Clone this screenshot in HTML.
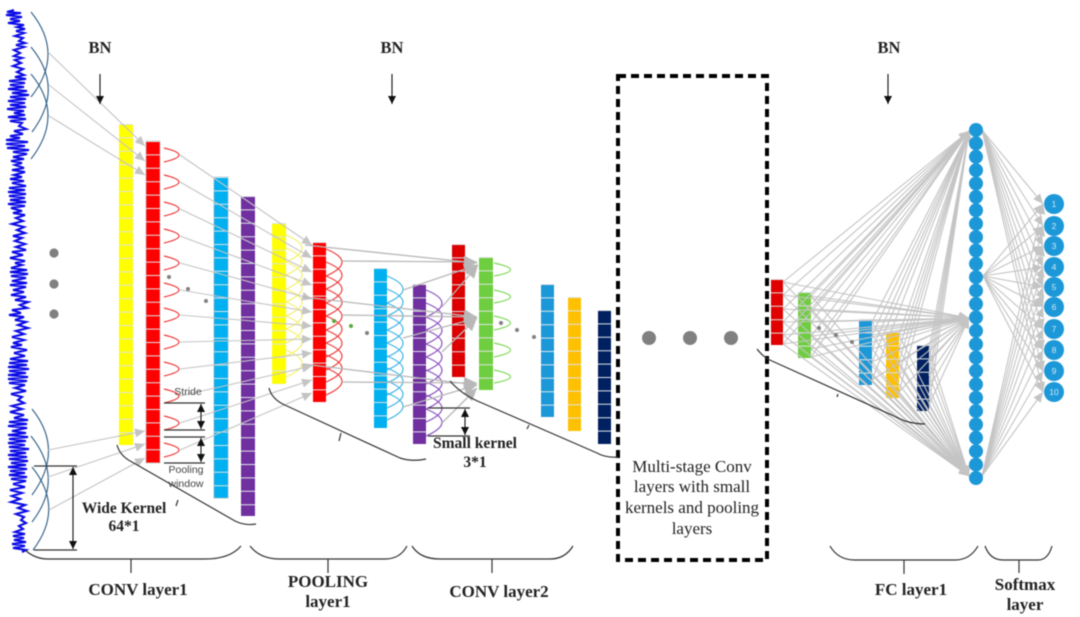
<!DOCTYPE html>
<html><head><meta charset="utf-8"><style>
html,body{margin:0;padding:0;background:#fff;width:1080px;height:617px;overflow:hidden}
svg{display:block;filter:blur(.5px)}
text{font-family:"Liberation Serif",serif;font-weight:bold;font-size:15.500px;fill:#222;text-anchor:middle}
.L{font-size:17px}
.B{font-size:16.500px}
.s{font-family:"Liberation Sans",sans-serif;font-weight:normal;font-size:10.500px;fill:#444}
.r{font-weight:normal;font-size:17px}
.n{font-family:"Liberation Sans",sans-serif;font-weight:normal;font-size:8.500px;fill:#cfeaf8}
.sep{stroke:#dde3e6;stroke-dasharray:1 12.4}
.arc{fill:none;stroke-width:1.2}
.gl{fill:none;stroke:#c4c4c4;stroke-width:1.1;marker-end:url(#a)}
.gb{fill:none;stroke:#b8b8b8;stroke-width:1.3;marker-end:url(#c)}
.k{stroke:#333;stroke-width:1.2;fill:none}
.d{fill:#808080}
</style></head><body>
<svg width="1080" height="617" viewBox="0 0 1080 617" xmlns="http://www.w3.org/2000/svg">
<defs>
<marker id="a" markerUnits="userSpaceOnUse" markerWidth="11" markerHeight="9" refX="10" refY="4.5" orient="auto"><path d="M0 0L10 4.5L0 9z" fill="#c4c4c4"/></marker>
<marker id="c" markerUnits="userSpaceOnUse" markerWidth="14" markerHeight="12" refX="13" refY="6" orient="auto"><path d="M0 0L13 6L0 12z" fill="#b8b8b8"/></marker>
<marker id="b" markerUnits="userSpaceOnUse" markerWidth="9" markerHeight="9" refX="8" refY="4" orient="auto-start-reverse"><path d="M0 0L8 4L0 8z" fill="#111"/></marker>
</defs>
<rect width="1080" height="617" fill="#fff"/>

<!-- signal -->
<polyline fill="none" stroke="#0a0ae6" stroke-width="2.100" points="14,10 7,12 21,13 6,15 22,17 10,19 20,21 8,23 24,25 17,27 25,29 16,31 24,33 15,36 23,38 19,41 25,43 16,45 24,47 14,50 20,53 14,56 22,58 15,60 21,63 13,66 23,69 17,72 24,75 15,77 26,79 9,81 25,83 10,85 24,87 8,89 27,91 12,93 29,95 10,97 26,99 8,101 25,103 10,105 26,107 7,109 24,111 14,113 25,115 8,117 26,119 10,121 22,123 19,126 26,129 14,131 23,134 10,136 20,138 6,140 28,142 6,144 25,146 7,148 29,150 13,152 27,154 13,157 24,159 11,161 22,163 15,165 24,168 12,170 25,172 14,175 22,177 10,179 24,181 12,183 26,186 9,188 25,190 8,192 26,194 9,196 25,198 10,200 26,202 8,204 25,206 11,208 22,211 13,213 25,215 16,218 23,221 12,224 24,227 17,230 25,233 13,236 22,238 15,241 25,244 16,247 26,250 12,252 23,255 10,258 25,261 15,263 22,265 11,268 27,270 10,272 28,274 11,276 26,278 12,281 27,283 10,285 26,287 13,290 24,292 11,295 26,297 15,300 28,302 20,305 27,308 12,310 21,313 9,315 24,317 15,320 26,322 18,325 28,328 16,331 24,334 12,337 24,340 13,343 22,345 11,347 27,350 14,353 25,356 10,359 28,361 9,363 27,365 8,367 29,369 9,371 26,373 8,375 28,377 8,379 27,381 9,383 25,385 15,388 26,391 11,394 22,397 18,400 24,403 12,406 22,409 10,412 24,415 14,418 28,420 9,422 27,424 8,426 27,428 12,431 26,433 8,435 28,437 9,439 26,441 8,443 25,445 9,447 29,449 10,451 26,453 8,455 27,457 9,459 28,461 11,463 26,465 8,467 27,469 10,471 25,473 9,475 27,477 11,479 26,481 13,484 25,487 10,490 22,493 12,496 20,499 11,502 25,505 18,508 27,511 16,514 24,517 21,520 26,523 19,526 23,529 15,532 25,534 13,536 24,538 14,540 26,542 12,544 25,546 13,548 26,550 22,552"/>

<!-- input arcs -->
<g fill="none" stroke="#2f5f88" stroke-width="1.1">
<path d="M31 12Q65 54 31 97"/><path d="M31 47Q65 88 32 132"/><path d="M31 74Q65 115 31 159"/>
<path d="M32 409Q65 450 32 495"/><path d="M31 436Q65 479 32 522"/><path d="M32 467Q65 508 33 550"/>
</g>

<!-- bars: first group -->
<rect x="119" y="124" width="14" height="321" fill="#ffff00"/><line class="sep" x1="126" x2="126" y1="124" y2="445" stroke-width="14"/>
<rect x="146" y="141" width="14" height="322" fill="#ff0000" stroke="#b9b9b9" stroke-width=".7"/><line class="sep" x1="153" x2="153" y1="141" y2="463" stroke-width="14"/>
<rect x="214" y="177" width="14" height="321" fill="#00b0f0" stroke="#8cb4c4" stroke-width=".7"/><line class="sep" x1="221" x2="221" y1="177" y2="498" stroke-width="14"/>
<rect x="241" y="196" width="14" height="320" fill="#7030a0"/><line class="sep" x1="248" x2="248" y1="196" y2="516" stroke-width="14"/>
<rect x="272" y="223" width="14" height="161" fill="#ffff00"/><line class="sep" x1="279" x2="279" y1="223" y2="384" stroke-width="14"/>
<rect x="313" y="242" width="13" height="160" fill="#ff0000"/><line class="sep" x1="319.500" x2="319.500" y1="242" y2="402" stroke-width="13"/>
<rect x="374" y="268" width="13" height="160" fill="#00b0f0"/><line class="sep" x1="380.500" x2="380.500" y1="268" y2="428" stroke-width="13"/>
<rect x="413" y="284" width="13" height="160" fill="#7030a0"/><line class="sep" x1="419.500" x2="419.500" y1="284" y2="444" stroke-width="13"/>
<rect x="452" y="244" width="13" height="133" fill="#dc0000"/><line class="sep" x1="458.500" x2="458.500" y1="244" y2="377" stroke-width="13"/>
<rect x="479" y="257" width="14" height="133" fill="#6fce3f"/><line class="sep" x1="486" x2="486" y1="257" y2="390" stroke-width="14"/>
<rect x="541" y="284" width="13" height="133" fill="#1c98d8"/><line class="sep" x1="547.500" x2="547.500" y1="284" y2="417" stroke-width="13"/>
<rect x="568" y="297" width="13" height="134" fill="#ffc000"/><line class="sep" x1="574.500" x2="574.500" y1="297" y2="431" stroke-width="13"/>
<rect x="598" y="310" width="13" height="134" fill="#002060"/><line class="sep" x1="604.500" x2="604.500" y1="310" y2="444" stroke-width="13"/>

<!-- bars: FC -->
<rect x="771" y="279" width="12" height="66" fill="#e00000"/><line class="sep" x1="777" x2="777" y1="279" y2="345" stroke-width="12"/>
<rect x="798" y="292" width="13" height="66" fill="#6fce3f"/><line class="sep" x1="804.500" x2="804.500" y1="292" y2="358" stroke-width="13"/>
<rect x="859" y="319" width="13" height="66" fill="#1c98d8"/><line class="sep" x1="865.500" x2="865.500" y1="319" y2="385" stroke-width="13"/>
<rect x="886" y="332" width="13" height="66" fill="#ffc000"/><line class="sep" x1="892.500" x2="892.500" y1="332" y2="398" stroke-width="13"/>
<rect x="917" y="345" width="12" height="66" fill="#002060"/><line class="sep" x1="923" x2="923" y1="345" y2="411" stroke-width="12"/>

<!-- arcs: red wide -->
<g class="arc" stroke="#ee3b3b" fill="none">
<path d="M164 148Q194 155 164 162"/><path d="M164 175Q194 182 164 189"/><path d="M164 202Q194 209 164 216"/><path d="M164 229Q194 236 164 243"/><path d="M164 256Q194 263 164 270"/><path d="M164 283Q194 290 164 297"/><path d="M164 308Q194 315 164 322"/><path d="M164 335Q194 342 164 349"/><path d="M164 362Q194 369 164 376"/><path d="M164 389Q194 396 164 403"/><path d="M164 416Q194 423 164 430"/><path d="M164 443Q194 450 164 457"/>
</g>
<!-- overlapping arcs -->
<g class="arc" stroke="#f5f06a" fill="none">
<path d="M286 235Q318 248 286 262"/><path d="M286 248Q318 261 286 275"/><path d="M286 262Q318 275 286 289"/><path d="M286 275Q318 288 286 302"/><path d="M286 289Q318 302 286 316"/><path d="M286 302Q318 315 286 329"/><path d="M286 316Q318 329 286 343"/><path d="M286 329Q318 342 286 356"/><path d="M286 350Q318 363 286 377"/>
</g>
<g class="arc" stroke="#ee3b3b" fill="none">
<path d="M326 249Q358 262 326 276"/><path d="M326 262Q358 275 326 289"/><path d="M326 276Q358 289 326 303"/><path d="M326 289Q358 302 326 316"/><path d="M326 303Q358 316 326 330"/><path d="M326 316Q358 329 326 343"/><path d="M326 330Q358 343 326 357"/><path d="M326 343Q358 356 326 370"/><path d="M326 355Q358 368 326 382"/><path d="M326 368Q358 381 326 395"/>
</g>
<g class="arc" stroke="#3cb4e6" fill="none">
<path d="M387 276Q419 289 387 303"/><path d="M387 289Q419 302 387 316"/><path d="M387 303Q419 316 387 330"/><path d="M387 316Q419 329 387 343"/><path d="M387 330Q419 343 387 357"/><path d="M387 343Q419 356 387 370"/><path d="M387 356Q419 369 387 383"/><path d="M387 368Q419 381 387 395"/><path d="M387 381Q419 394 387 408"/><path d="M387 393Q419 406 387 420"/>
</g>
<g class="arc" stroke="#8a4fc0" fill="none">
<path d="M426 290Q458 303 426 317"/><path d="M426 303Q458 316 426 330"/><path d="M426 317Q458 330 426 344"/><path d="M426 330Q458 343 426 357"/><path d="M426 344Q458 357 426 371"/><path d="M426 357Q458 370 426 384"/><path d="M426 370Q458 383 426 397"/><path d="M426 382Q458 395 426 409"/><path d="M426 395Q458 408 426 422"/><path d="M426 409Q458 422 426 436"/>
</g>
<g class="arc" stroke="#7ed957" fill="none">
<path d="M494 263Q527 270 494 276"/><path d="M494 290Q527 297 494 303"/><path d="M494 316Q527 323 494 330"/><path d="M494 343Q527 350 494 357"/><path d="M494 370Q527 377 494 383"/>
</g>

<!-- connectors first group -->
<g class="gl">
<path d="M48 52L145 146"/><path d="M49 85L145 161"/><path d="M49 116L145 175"/>
<path d="M48 450L145 431"/><path d="M48 477L145 444"/><path d="M49 510L145 458"/>
<path d="M180 155L312 245"/><path d="M180 182L312 258"/><path d="M180 209L312 272"/><path d="M180 236L312 285"/><path d="M180 263L312 299"/><path d="M180 290L312 312"/><path d="M180 315L312 326"/><path d="M180 342L312 339"/><path d="M180 369L312 353"/><path d="M180 396L312 366"/><path d="M180 423L312 380"/><path d="M180 450L312 393"/>
</g>
<g class="gb">
<path d="M305 245L477 263"/><path d="M342 261L477 262"/><path d="M403 290L477 265"/><path d="M442 307L478 265"/>
<path d="M303 297L477 317"/><path d="M342 315L477 317"/><path d="M403 338L477 318"/><path d="M442 352L477 318"/>
<path d="M303 364L477 385"/><path d="M342 382L477 383"/><path d="M403 407L477 385"/><path d="M442 423L477 388"/>
</g>

<!-- FC connectors -->
<g class="gl">
<path d="M783 282L969 131"/><path d="M783 295L969 131"/><path d="M783 309L969 131"/><path d="M783 322L969 131"/><path d="M783 335L969 131"/><path d="M783 344L969 131"/>
<path d="M811 296L969 131"/><path d="M811 309L969 131"/><path d="M811 322L969 131"/><path d="M811 336L969 131"/><path d="M811 349L969 131"/><path d="M811 357L969 131"/>
<path d="M872 322L969 131"/><path d="M872 335L969 131"/><path d="M872 349L969 131"/><path d="M872 362L969 131"/><path d="M872 380L969 131"/>
<path d="M899 335L969 131"/><path d="M899 349L969 131"/><path d="M899 362L969 131"/><path d="M899 375L969 131"/><path d="M899 392L969 131"/>
<path d="M929 350L969 131"/><path d="M929 362L969 131"/><path d="M929 375L969 131"/><path d="M929 388L969 131"/><path d="M929 405L969 131"/>
<path d="M783 282L969 318"/><path d="M783 295L969 318"/><path d="M783 309L969 318"/><path d="M783 322L969 318"/><path d="M783 335L969 318"/><path d="M783 344L969 318"/>
<path d="M811 296L969 318"/><path d="M811 309L969 318"/><path d="M811 322L969 318"/><path d="M811 336L969 318"/><path d="M811 349L969 318"/><path d="M811 357L969 318"/>
<path d="M872 322L969 318"/><path d="M872 335L969 318"/><path d="M872 349L969 318"/><path d="M872 362L969 318"/><path d="M872 380L969 318"/>
<path d="M899 335L969 318"/><path d="M899 349L969 318"/><path d="M899 362L969 318"/><path d="M899 375L969 318"/><path d="M899 392L969 318"/>
<path d="M929 350L969 318"/><path d="M929 362L969 318"/><path d="M929 375L969 318"/><path d="M929 388L969 318"/><path d="M929 405L969 318"/>
<path d="M783 282L969 476"/><path d="M783 295L969 476"/><path d="M783 309L969 476"/><path d="M783 322L969 476"/><path d="M783 335L969 476"/><path d="M783 344L969 476"/>
<path d="M811 296L969 476"/><path d="M811 309L969 476"/><path d="M811 322L969 476"/><path d="M811 336L969 476"/><path d="M811 349L969 476"/><path d="M811 357L969 476"/>
<path d="M872 322L969 476"/><path d="M872 335L969 476"/><path d="M872 349L969 476"/><path d="M872 362L969 476"/><path d="M872 380L969 476"/>
<path d="M899 335L969 476"/><path d="M899 349L969 476"/><path d="M899 362L969 476"/><path d="M899 375L969 476"/><path d="M899 392L969 476"/>
<path d="M929 350L969 476"/><path d="M929 362L969 476"/><path d="M929 375L969 476"/><path d="M929 388L969 476"/><path d="M929 405L969 476"/>
</g>
<!-- output connectors -->
<g class="gl">
<path d="M982 130L1043 204"/><path d="M982 130L1043 226"/><path d="M982 130L1043 246"/><path d="M982 130L1043 267"/><path d="M982 130L1043 287"/><path d="M982 130L1043 307"/><path d="M982 130L1043 329"/><path d="M982 130L1043 350"/><path d="M982 130L1043 371"/><path d="M982 130L1043 392"/>
<path d="M983 276L1043 204"/><path d="M983 276L1043 226"/><path d="M983 276L1043 246"/><path d="M983 276L1043 267"/><path d="M983 276L1043 287"/><path d="M983 276L1043 307"/><path d="M983 276L1043 329"/><path d="M983 276L1043 350"/><path d="M983 276L1043 371"/><path d="M983 276L1043 392"/>
<path d="M982 476L1043 204"/><path d="M982 476L1043 226"/><path d="M982 476L1043 246"/><path d="M982 476L1043 267"/><path d="M982 476L1043 287"/><path d="M982 476L1043 307"/><path d="M982 476L1043 329"/><path d="M982 476L1043 350"/><path d="M982 476L1043 371"/><path d="M982 476L1043 392"/>
</g>

<!-- FC circles -->
<g fill="#1c98d8">
<circle cx="976" cy="130" r="7"/><circle cx="976" cy="143.400" r="7"/><circle cx="976" cy="156.800" r="7"/><circle cx="976" cy="170.200" r="7"/><circle cx="976" cy="183.500" r="7"/><circle cx="976" cy="196.900" r="7"/><circle cx="976" cy="210.300" r="7"/><circle cx="976" cy="223.700" r="7"/><circle cx="976" cy="237.100" r="7"/><circle cx="976" cy="250.500" r="7"/><circle cx="976" cy="263.800" r="7"/><circle cx="976" cy="277.200" r="7"/><circle cx="976" cy="290.600" r="7"/><circle cx="976" cy="304" r="7"/><circle cx="976" cy="317.400" r="7"/><circle cx="976" cy="330.800" r="7"/><circle cx="976" cy="344.200" r="7"/><circle cx="976" cy="357.500" r="7"/><circle cx="976" cy="370.900" r="7"/><circle cx="976" cy="384.300" r="7"/><circle cx="976" cy="397.700" r="7"/><circle cx="976" cy="411.100" r="7"/><circle cx="976" cy="424.500" r="7"/><circle cx="976" cy="437.800" r="7"/><circle cx="976" cy="451.200" r="7"/><circle cx="976" cy="464.600" r="7"/><circle cx="976" cy="478" r="7"/>
<circle cx="1054" cy="204" r="10"/><circle cx="1054" cy="226" r="10"/><circle cx="1054" cy="246" r="10"/><circle cx="1054" cy="267" r="10"/><circle cx="1054" cy="287" r="10"/><circle cx="1054" cy="307" r="10"/><circle cx="1054" cy="329" r="10"/><circle cx="1054" cy="350" r="10"/><circle cx="1054" cy="371" r="10"/><circle cx="1054" cy="392" r="10"/>
</g>
<text class="n" x="1054" y="207">1</text><text class="n" x="1054" y="229">2</text><text class="n" x="1054" y="249">3</text><text class="n" x="1054" y="270">4</text><text class="n" x="1054" y="290">5</text><text class="n" x="1054" y="310">6</text><text class="n" x="1054" y="332">7</text><text class="n" x="1054" y="353">8</text><text class="n" x="1054" y="374">9</text><text class="n" x="1054" y="395">10</text>

<!-- dots -->
<circle class="d" cx="54" cy="253" r="4.600"/><circle class="d" cx="54" cy="284" r="4.600"/><circle class="d" cx="54" cy="314" r="4.600"/>
<circle class="d" cx="169" cy="277" r="2"/><circle class="d" cx="188" cy="289" r="2"/><circle class="d" cx="206" cy="301" r="2"/>
<circle cx="334" cy="321" r="2" fill="#5aa83c"/><circle cx="351" cy="326" r="2" fill="#5aa83c"/><circle class="d" cx="367" cy="333" r="2"/>
<circle class="d" cx="501" cy="323" r="2"/><circle class="d" cx="517" cy="330" r="2"/><circle class="d" cx="534" cy="337" r="2"/>
<circle class="d" cx="819" cy="328" r="2"/><circle class="d" cx="836" cy="335" r="2"/><circle class="d" cx="852" cy="342" r="2"/>
<circle class="d" cx="649" cy="338" r="7"/><circle class="d" cx="690" cy="338" r="7"/><circle class="d" cx="731" cy="338" r="7"/>

<!-- dashed box -->
<rect x="618" y="76" width="149" height="484" fill="none" stroke="#000" stroke-width="4" stroke-dasharray="8 5"/>

<!-- diagonal brackets -->
<g class="k">
<path d="M117 445Q120 456 132 462L235 521Q245 526 256 524"/><path d="M178 500L176 506"/>
<path d="M269 388Q272 400 287 406L400 458Q412 462 426 459"/><path d="M341 433L339 441"/>
<path d="M450 381Q462 395 482 403L597 453Q606 458 618 457"/><path d="M529 425L527 429"/>
<path d="M757 349Q764 358 772 361L905 421Q915 424 925 424"/><path d="M838 394L837 397"/>
</g>

<!-- bottom braces -->
<g class="k">
<path d="M25 550Q35 559 48 559H205Q230 559 241 546"/><path d="M131 559V573"/>
<path d="M250 546Q260 559 280 559H385Q400 559 407 546"/><path d="M328 559V573"/>
<path d="M412 546Q420 559 440 559H550Q565 559 573 546"/><path d="M492 559V573"/>
<path d="M830 546Q838 560 855 560H955Q970 560 978 546"/><path d="M904 560V574"/>
<path d="M985 546Q990 560 1003 560H1038Q1048 560 1052 546"/><path d="M1019 560V573"/>
</g>

<!-- measures -->
<g class="k">
<path d="M164 403H205M164 430H205M164 437H205M164 463H205"/>
<path d="M34 466H77M34 550H77"/>
<path d="M428 408H470M428 436H470"/>
</g>
<g stroke="#111" stroke-width="1.1" fill="none">
<line x1="201" y1="404" x2="201" y2="429" marker-start="url(#b)" marker-end="url(#b)"/>
<line x1="201" y1="438" x2="201" y2="462" marker-start="url(#b)" marker-end="url(#b)"/>
<line x1="73" y1="467" x2="73" y2="549" marker-start="url(#b)" marker-end="url(#b)"/>
<line x1="465" y1="409" x2="465" y2="435" marker-start="url(#b)" marker-end="url(#b)"/>
<line x1="100" y1="74" x2="100" y2="104" marker-end="url(#b)"/>
<line x1="392" y1="74" x2="392" y2="104" marker-end="url(#b)"/>
<line x1="888" y1="74" x2="888" y2="104" marker-end="url(#b)"/>
</g>

<!-- labels -->
<text class="B" x="100" y="53">BN</text><text class="B" x="392" y="53">BN</text><text class="B" x="889" y="53">BN</text>
<text class="s" x="188" y="395">Stride</text>
<text class="s" x="186" y="473">Pooling</text>
<text class="s" x="186" y="487">window</text>
<text x="124" y="513">Wide Kernel</text>
<text x="124" y="531">64*1</text>
<text x="475" y="448">Small kernel</text>
<text x="475" y="467">3*1</text>
<text class="L" x="138" y="595">CONV layer1</text>
<text class="L" x="328" y="587">POOLING</text>
<text class="L" x="328" y="607">layer1</text>
<text class="L" x="499" y="597">CONV layer2</text>
<text class="L" x="911" y="595">FC layer1</text>
<text class="L" x="1025" y="590">Softmax</text>
<text class="L" x="1025" y="610">layer</text>
<text class="r" x="692" y="472">Multi-stage Conv</text>
<text class="r" x="692" y="492">layers with small</text>
<text class="r" x="692" y="513">kernels and pooling</text>
<text class="r" x="692" y="534">layers</text>
</svg>
</body></html>
